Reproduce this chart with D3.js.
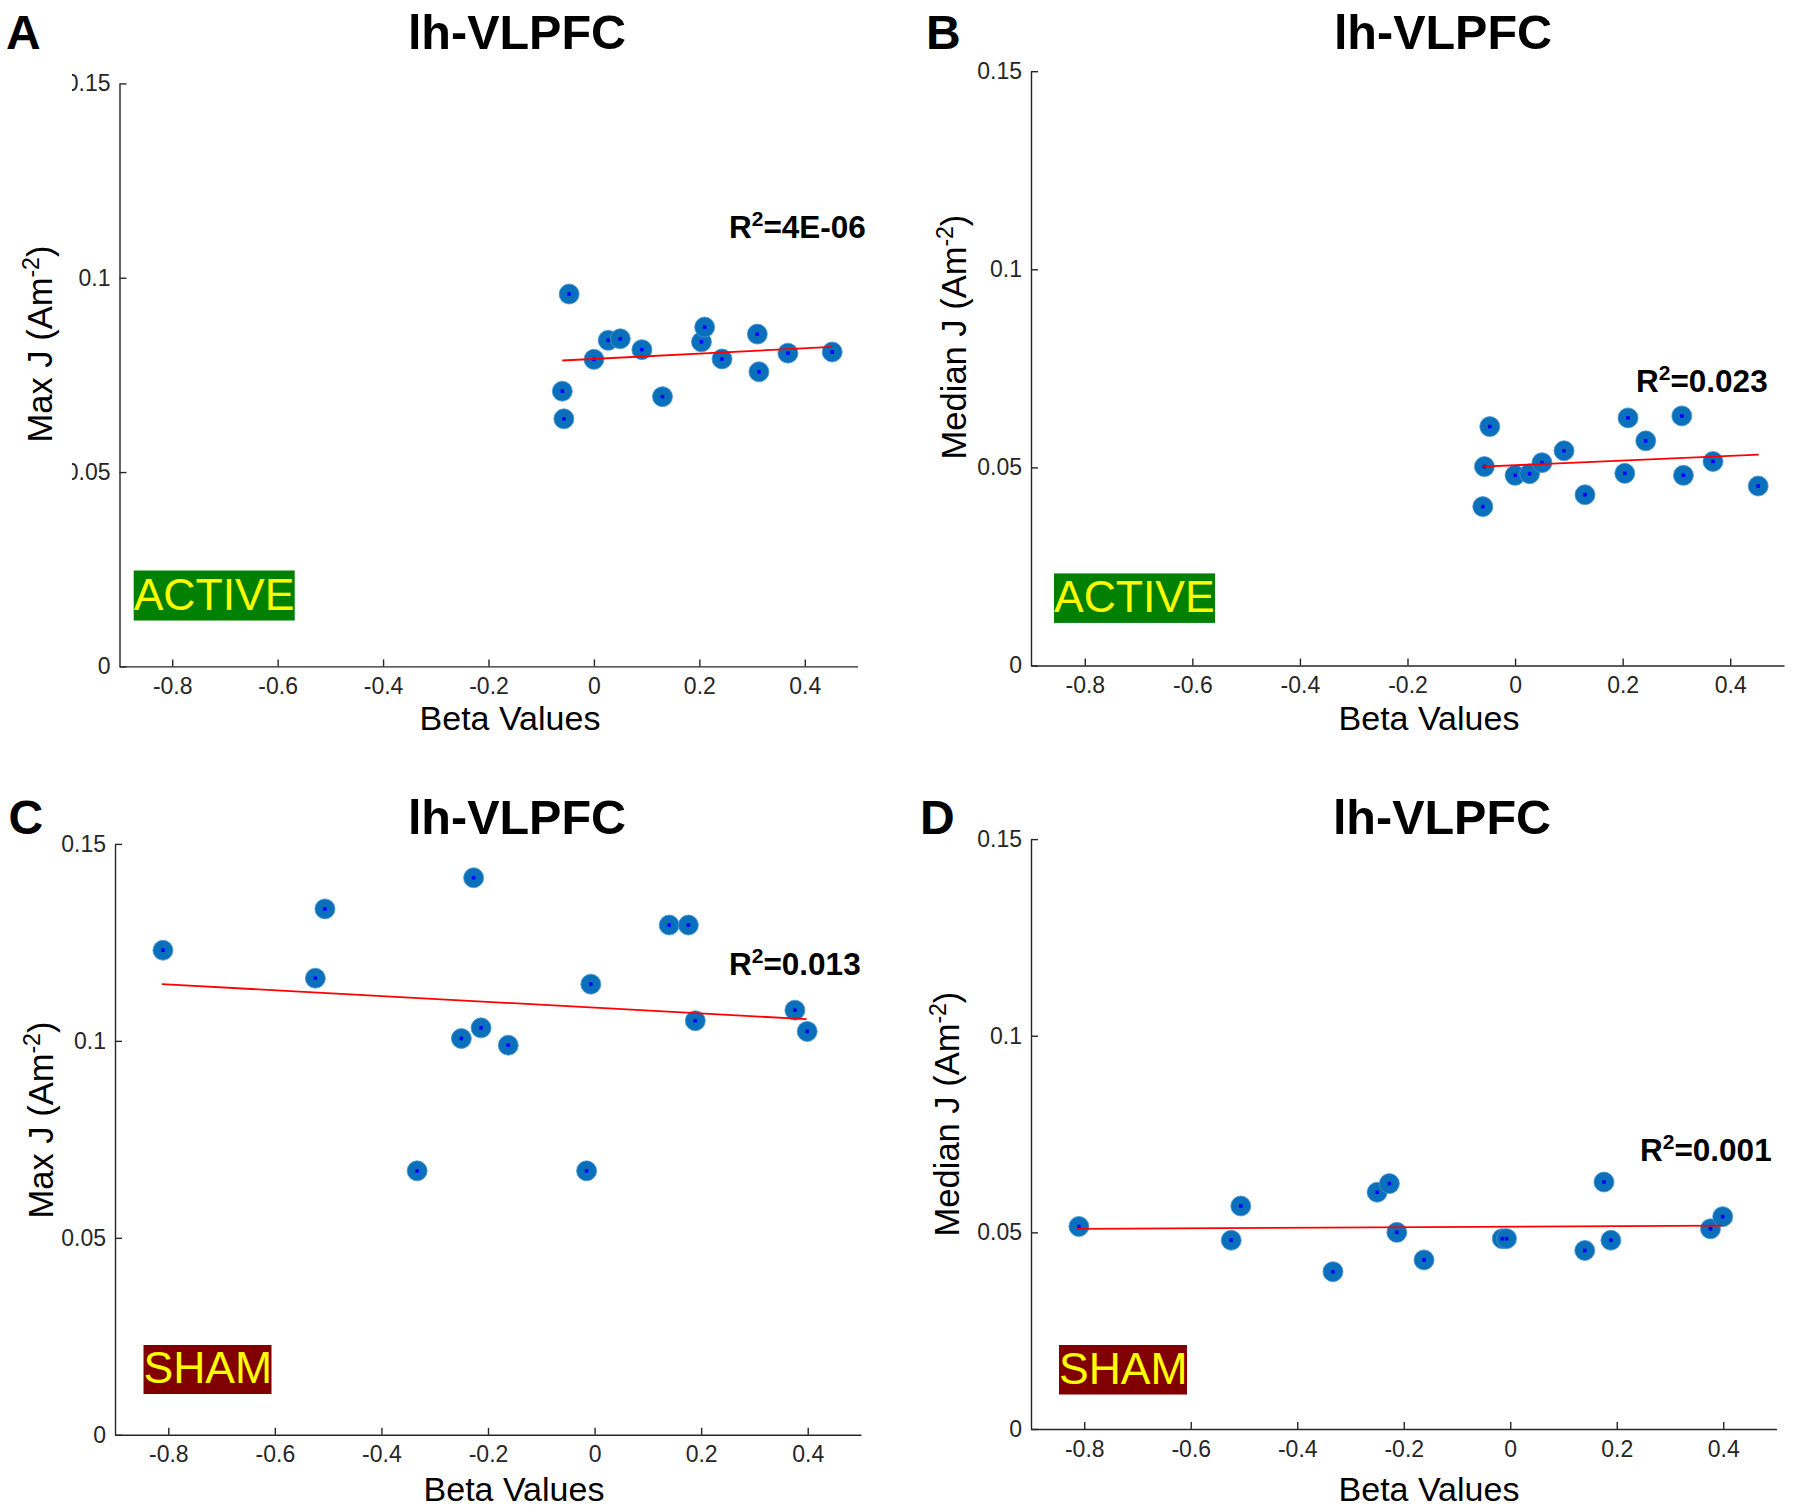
<!DOCTYPE html>
<html>
<head>
<meta charset="utf-8">
<script src="https://cdn.jsdelivr.net/npm/d3@7"></script>
<style>
  body { margin: 0; background: #fff; }
  svg { display: block; font-family: Helvetica, Arial, "Liberation Sans", sans-serif; }
</style>
</head>
<body>
<svg id="fig" width="1800" height="1512"></svg>
<script>
// beta values per subject (same subjects in A/B, and in C/D)
const betaActive = [-0.047, -0.057, -0.060, 0.000, 0.027, 0.050, 0.091, 0.130, 0.204, 0.210, 0.243, 0.310, 0.313, 0.368, 0.452];
const maxJActive = [0.0958, 0.0637, 0.0708, 0.0790, 0.0839, 0.0843, 0.0815, 0.0694, 0.0835, 0.0873, 0.0791, 0.0855, 0.0758, 0.0806, 0.0809];
const medJActive = [0.0603, 0.0502, 0.0401, 0.0480, 0.0484, 0.0512, 0.0542, 0.0431, 0.0485, 0.0625, 0.0567, 0.0630, 0.0480, 0.0515, 0.0453];

const betaSham = [-0.810, -0.524, -0.506, -0.333, -0.250, -0.227, -0.213, -0.162, -0.015, -0.007, 0.140, 0.176, 0.189, 0.376, 0.399];
const maxJSham = [0.1230, 0.1159, 0.1335, 0.0670, 0.1006, 0.1414, 0.1033, 0.0989, 0.0670, 0.1144, 0.1294, 0.1294, 0.1051, 0.1078, 0.1024];
const medJSham = [0.0515, 0.0480, 0.0567, 0.0400, 0.0602, 0.0624, 0.0500, 0.0430, 0.0484, 0.0484, 0.0454, 0.0628, 0.0480, 0.0509, 0.0540];

// fitted line end points, as drawn
const fitMaxActive = [[-0.060, 0.0787], [0.452, 0.0822]];
const fitMedActive = [[-0.060, 0.0502], [0.453, 0.0532]];
const fitMaxSham = [[-0.812, 0.1144], [0.398, 0.1055]];
const fitMedSham = [[-0.814, 0.0509], [0.398, 0.0517]];

const r2Text = ["4E-06", "0.023", "0.013", "0.001"];
const xTicks = [-0.8, -0.6, -0.4, -0.2, 0, 0.2, 0.4];
const yTicks = [0, 0.05, 0.1, 0.15];

const svg = d3.select("#fig");
const axisColor = "#262626";

// one config per panel: plot box in pixels plus text placement
const panels = [
  { tag: "A", xs: betaActive, ys: maxJActive, fit: fitMaxActive, r2: r2Text[0], ylab: "Max J (Am", group: "ACTIVE", groupFill: "#008000",
    box: { l: 119.5, r: 857.5, t: 83.4, b: 666.4 }, tagX: 6, titleX: 517, titleY: 48.5,
    r2X: 729, r2Y: 237.5, ylabX: 51.5, ylabY: 344, xlabX: 510, xlabY: 730,
    gBox: { x: 133.7, y: 570.5, w: 161, h: 50 }, clipLeft: 72 },
  { tag: "B", xs: betaActive, ys: medJActive, fit: fitMedActive, r2: r2Text[1], ylab: "Median J (Am", group: "ACTIVE", groupFill: "#008000",
    box: { l: 1031, r: 1784, t: 71.2, b: 665.5 }, tagX: 926, titleX: 1443, titleY: 48.5,
    r2X: 1636, r2Y: 391.6, ylabX: 965.5, ylabY: 337, xlabX: 1429, xlabY: 730,
    gBox: { x: 1054, y: 573.4, w: 161, h: 49.5 } },
  { tag: "C", xs: betaSham, ys: maxJSham, fit: fitMaxSham, r2: r2Text[2], ylab: "Max J (Am", group: "SHAM", groupFill: "#800000",
    box: { l: 115, r: 861, t: 843.9, b: 1434.8 }, tagX: 8.6, titleX: 517, titleY: 834,
    r2X: 729, r2Y: 975, ylabX: 52.5, ylabY: 1120, xlabX: 514, xlabY: 1501,
    gBox: { x: 143.5, y: 1345, w: 128, h: 49 } },
  { tag: "D", xs: betaSham, ys: medJSham, fit: fitMedSham, r2: r2Text[3], ylab: "Median J (Am", group: "SHAM", groupFill: "#800000",
    box: { l: 1031, r: 1776.5, t: 839.1, b: 1429 }, tagX: 920, titleX: 1442, titleY: 834,
    r2X: 1640, r2Y: 1160.5, ylabX: 959, ylabY: 1114, xlabX: 1429, xlabY: 1501,
    gBox: { x: 1059, y: 1345, w: 128, h: 49.5 } }
];

panels.forEach(p => {
  const x = d3.scaleLinear().domain([-0.9, 0.5]).range([p.box.l, p.box.r]);
  const y = d3.scaleLinear().domain([0, 0.15]).range([p.box.b, p.box.t]);
  const g = svg.append("g").attr("class", "panel-" + p.tag);

  // panel tag and title
  g.append("text").attr("x", p.tagX).attr("y", p.titleY)
    .attr("font-size", 48).attr("font-weight", "bold").attr("fill", "#000").text(p.tag);
  g.append("text").attr("x", p.titleX).attr("y", p.titleY).attr("text-anchor", "middle")
    .attr("font-size", 48.5).attr("font-weight", "bold").attr("fill", "#000").text("lh-VLPFC");

  // x axis (MATLAB style: ticks pointing inward)
  const xAxis = g.append("g").attr("transform", `translate(0,${p.box.b})`)
    .call(d3.axisBottom(x).tickValues(xTicks).tickFormat(d => String(d)).tickSizeInner(-7).tickSizeOuter(0).tickPadding(12));
  // y axis
  const yAxis = g.append("g").attr("transform", `translate(${p.box.l},0)`)
    .call(d3.axisLeft(y).tickValues(yTicks).tickFormat(d => String(d)).tickSizeInner(-7).tickSizeOuter(0).tickPadding(9));

  [xAxis, yAxis].forEach(ax => {
    ax.select(".domain").attr("stroke", axisColor).attr("stroke-width", 1.4);
    ax.selectAll(".tick line").attr("stroke", axisColor).attr("stroke-width", 1.4);
    ax.selectAll(".tick text").attr("fill", axisColor).attr("font-size", 23)
      .style("font-family", "Helvetica, Arial, 'Liberation Sans', sans-serif");
  });
  xAxis.selectAll(".tick text").attr("dy", "0.68em");

  // in panel A the leading zeros of the y labels are cut off
  if (p.clipLeft) {
    svg.append("clipPath").attr("id", "clipA")
      .append("rect").attr("x", p.clipLeft - p.box.l).attr("y", 0).attr("width", 1800).attr("height", 1512);
    yAxis.attr("clip-path", "url(#clipA)");
  }

  // axis labels
  g.append("text").attr("x", p.xlabX).attr("y", p.xlabY).attr("text-anchor", "middle")
    .attr("font-size", 34).attr("fill", "#000").text("Beta Values");
  const yl = g.append("text")
    .attr("transform", `translate(${p.ylabX},${p.ylabY}) rotate(-90)`)
    .attr("text-anchor", "middle").attr("font-size", 34.5).attr("fill", "#000");
  yl.append("tspan").text(p.ylab);
  yl.append("tspan").attr("font-size", 23).attr("dy", -13).text("-2");
  yl.append("tspan").attr("dy", 13).text(")");

  // group badge
  g.append("rect").attr("x", p.gBox.x).attr("y", p.gBox.y).attr("width", p.gBox.w).attr("height", p.gBox.h)
    .attr("fill", p.groupFill);
  g.append("text").attr("x", p.gBox.x).attr("y", p.gBox.y + p.gBox.h - 11)
    .attr("font-size", 44.5).attr("fill", "#ffff00").text(p.group);

  // scatter points
  const pts = p.xs.map((v, k) => ({ bx: v, j: p.ys[k] }));
  g.selectAll("circle.pt").data(pts).enter().append("circle").attr("class", "pt")
    .attr("cx", d => x(d.bx)).attr("cy", d => y(d.j)).attr("r", 10)
    .attr("fill", "#0b70bb").attr("stroke", "#4d97cf").attr("stroke-width", 0.8);
  g.selectAll("rect.dot").data(pts).enter().append("rect").attr("class", "dot")
    .attr("x", d => x(d.bx) - 1.8).attr("y", d => y(d.j) - 1.8).attr("width", 3.6).attr("height", 3.6)
    .attr("fill", "#0000ff");

  // regression line
  g.append("path").datum(p.fit)
    .attr("d", d3.line().x(d => x(d[0])).y(d => y(d[1])))
    .attr("stroke", "#ff0000").attr("stroke-width", 1.8).attr("fill", "none");

  // R^2 annotation
  const r2 = g.append("text").attr("x", p.r2X).attr("y", p.r2Y)
    .attr("font-size", 31.5).attr("font-weight", "bold").attr("fill", "#000");
  r2.append("tspan").text("R");
  r2.append("tspan").attr("font-size", 21).attr("dy", -12).text("2");
  r2.append("tspan").attr("dy", 12).text("=" + p.r2);
});
</script>
</body>
</html>
